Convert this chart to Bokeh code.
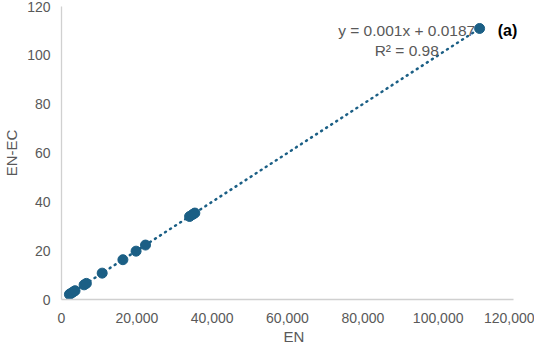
from bokeh.plotting import figure
from bokeh.models import ColumnDataSource, Label, FixedTicker, NumeralTickFormatter, Range1d, Title
from bokeh.embed import file_html
from bokeh.resources import INLINE

# Data
en = [2100, 2600, 3100, 3600, 6000, 6600, 10800, 16300, 19800, 22300, 34000, 34800, 35400, 111000]
en_ec = [2.1, 2.6, 3.1, 3.6, 6.0, 6.6, 10.8, 16.3, 19.8, 22.3, 34.0, 34.8, 35.4, 111.0]
slope = 0.001
intercept = 0.0187
x_ticks = [0, 20000, 40000, 60000, 80000, 100000, 120000]
y_ticks = [0, 20, 40, 60, 80, 100, 120]

color = "#1B5F85"
gray = "#595959"
font = "Liberation Sans"

p = figure(width=534, height=344, output_backend="svg", toolbar_location=None,
           x_range=Range1d(0, 123450), y_range=Range1d(0, 120),
           min_border_left=60, min_border_right=8, min_border_top=6, min_border_bottom=0)
p.outline_line_color = None
p.background_fill_color = "white"
p.xgrid.visible = False
p.ygrid.visible = False

# trendline
xl = [min(en), max(en)]
yl = [slope * v + intercept for v in xl]
p.line(xl, yl, line_color=color, line_width=2.5, line_dash="1 5", line_cap="round")

src = ColumnDataSource(dict(x=en, y=en_ec))
p.scatter("x", "y", source=src, size=10, fill_color=color, line_color=color)

for ax in (p.xaxis[0], p.yaxis[0]):
    ax.axis_line_color = "#D0D0D0"
    ax.axis_line_width = 1.3
    ax.major_tick_line_color = None
    ax.minor_tick_line_color = None
    ax.major_tick_out = 0
    ax.major_tick_in = 0
    ax.minor_tick_out = 0
    ax.minor_tick_in = 0
    ax.major_label_text_font = font
    ax.major_label_text_font_size = "14px"
    ax.major_label_text_color = gray
    ax.axis_label_text_font = font
    ax.axis_label_text_font_size = "15px"
    ax.axis_label_text_font_style = "normal"
    ax.axis_label_text_color = gray

p.xaxis.ticker = FixedTicker(ticks=x_ticks)
p.yaxis.ticker = FixedTicker(ticks=y_ticks)
p.xaxis.bounds = (0, 120000)
p.xaxis.formatter = NumeralTickFormatter(format="0,0")
p.yaxis.axis_label = "EN-EC"
p.xaxis.major_label_standoff = 13
p.yaxis.major_label_standoff = 11
p.yaxis.axis_label_standoff = 4

p.add_layout(Title(text="EN", align="center", text_font=font, text_font_size="15px",
                   text_font_style="normal", text_color=gray, standoff=0, offset=0), "below")

p.add_layout(Label(x=91650, y=110.3, text="y = 0.001x + 0.0187", text_align="center",
                   text_baseline="middle", text_font=font, text_font_size="15.5px",
                   text_color=gray))
p.add_layout(Label(x=91650, y=102.0, text="R² = 0.98", text_align="center",
                   text_baseline="middle", text_font=font, text_font_size="15.5px",
                   text_color=gray))
p.add_layout(Label(x=118400, y=110.3, text="(a)", text_align="center",
                   text_baseline="middle", text_font=font, text_font_size="16px",
                   text_font_style="bold", text_color="black"))

open("out.html", "w").write(file_html(p, INLINE))
